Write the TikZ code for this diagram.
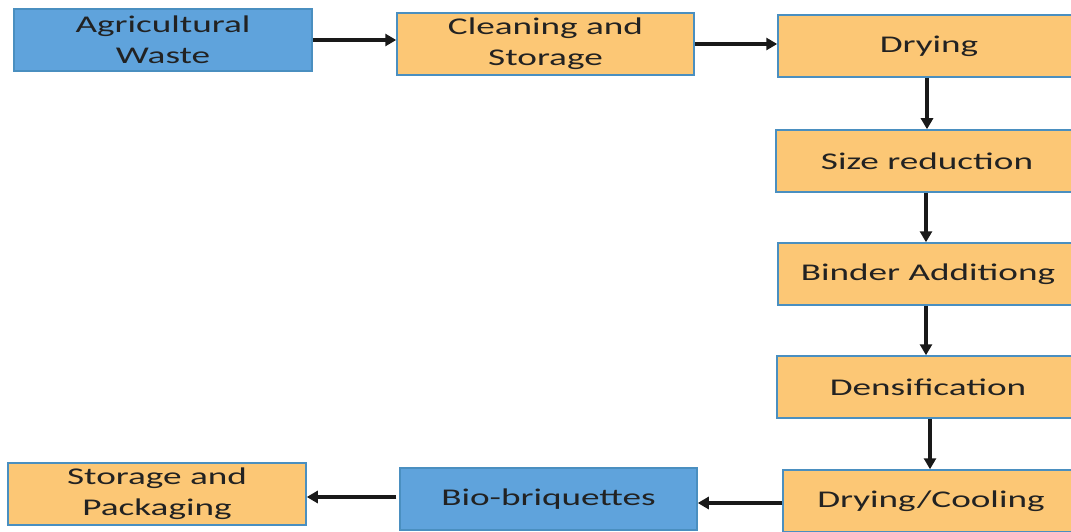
\documentclass[tikz,border=0pt]{standalone}
\usepackage{fontspec}
\setmainfont{Carlito}
\newfontfamily\widefont[FakeStretch=1.55]{Carlito}
\usetikzlibrary{arrows.meta}
\definecolor{boxorange}{HTML}{FCC775}
\definecolor{boxblue}{HTML}{5FA3DC}
\definecolor{boxline}{HTML}{4A8FC0}
\definecolor{txt}{HTML}{222222}
\tikzset{
  box/.style={draw=boxline, line width=1.5pt, minimum width=298pt, minimum height=62pt,
    inner sep=0pt, align=center, text=txt, font=\widefont\fontsize{24}{31}\selectfont},
  orbox/.style={box, fill=boxorange},
  blbox/.style={box, fill=boxblue},
  arr/.style={draw=black!90, line width=3.2pt, -{Triangle[length=11pt,width=12pt]}}
}
\begin{document}
\begin{tikzpicture}[x=1pt,y=-1pt]
\useasboundingbox (0,0) rectangle (1071,532);
\clip (0,0) rectangle (1071,532);
\fill[white] (0,0) rectangle (1071,532);
\node[blbox] (aw) at (163,40) {Agricultural\\Waste};
\node[orbox, minimum width=297pt] (cs) at (545.5,44) {Cleaning and\\Storage};
\node[orbox, minimum width=302pt] (dry) at (929,46) {Drying};
\node[orbox, minimum width=302pt] (size) at (927,161) {Size reduction};
\node[orbox, minimum width=300pt] (bind) at (928,274) {Binder Additiong};
\node[orbox, minimum width=302pt] (dens) at (928,387) {Densification};
\node[orbox, minimum width=296pt] (dc) at (931,501) {Drying/Cooling};
\node[blbox, minimum width=297pt] (bio) at (548.5,499) {Bio-briquettes};
\node[orbox] (sp) at (157,494) {Storage and\\Packaging};
\draw[arr] (aw.east) -- (aw.east -| cs.west);
\draw[arr] (cs.east) -- (cs.east -| dry.west);
\draw[arr] ([xshift=-2pt]dry.south) -- ([xshift=-2pt]dry.south |- size.north);
\draw[arr] ([xshift=-1pt]size.south) -- ([xshift=-1pt]size.south |- bind.north);
\draw[arr] ([xshift=-2pt]bind.south) -- ([xshift=-2pt]bind.south |- dens.north);
\draw[arr] ([xshift=2pt]dens.south) -- ([xshift=2pt]dens.south |- dc.north);
\draw[arr] ([yshift=-2pt]dc.west) -- ([yshift=-2pt]dc.west -| bio.east);
\draw[arr] ([xshift=-3pt,yshift=2pt]bio.west) -- ([yshift=2pt]bio.west -| sp.east);
\end{tikzpicture}
\end{document}
